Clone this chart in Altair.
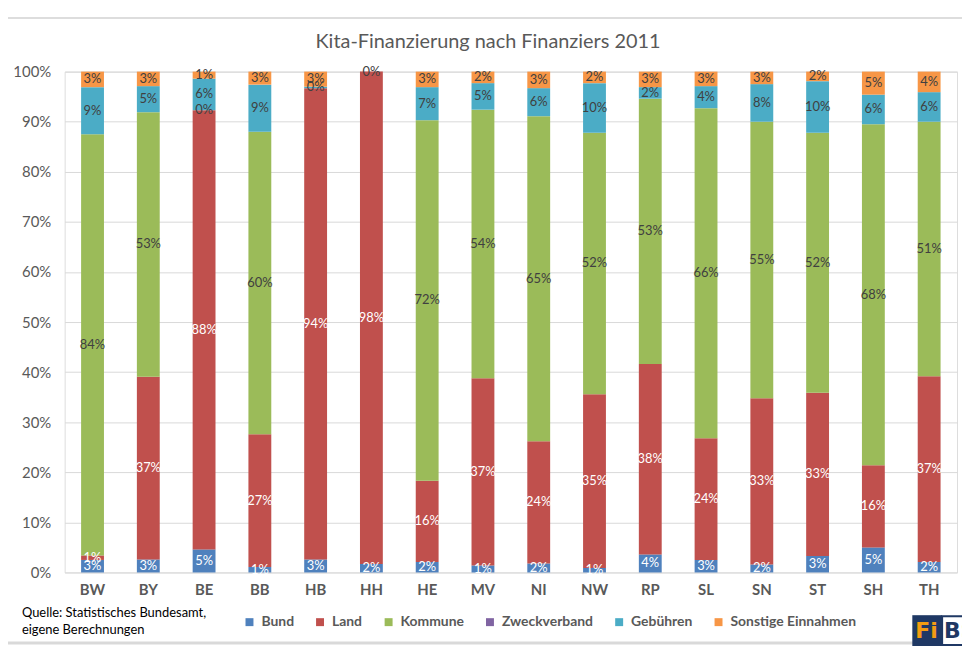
import altair as alt
import pandas as pd

states = ["BW", "BY", "BE", "BB", "HB", "HH", "HE", "MV", "NI", "NW", "RP", "SL", "SN", "ST", "SH", "TH"]
series = ["Bund", "Land", "Kommune", "Zweckverband", "Gebühren", "Sonstige Einnahmen"]
colors = ["#4f81bd", "#c0504d", "#9bbb59", "#8064a2", "#4bacc6", "#f79646"]
title_text = "Kita-Finanzierung nach Finanziers 2011"
source_lines = ["Quelle: Statistisches Bundesamt,", "eigene Berechnungen"]

# shares in percent (None = no value)
bund = [2.5, 2.6, 4.6, 1.1, 2.6, 1.7, 2.1, 1.4, 1.8, 0.9, 3.6, 2.5, 1.6, 3.3, 5.0, 2.1]
land = [0.9, 36.5, 87.7, 26.5, 94.1, 98.3, 16.2, 37.4, 24.4, 34.7, 38.0, 24.3, 33.2, 32.6, 16.4, 37.1]
kommune = [84.1, 52.8, 0, 60.4, None, 0, 72.0, 53.6, 64.9, 52.2, 53.0, 65.9, 55.2, 51.9, 68.1, 50.8]
zweckverband = [None] * 16
gebuehren = [9.4, 5.2, 6.3, 9.4, 0.3, None, 6.6, 5.3, 5.6, 9.9, 2.3, 4.4, 7.5, 10.3, 5.9, 5.9]
sonstige = [3.1, 2.9, 1.4, 2.6, 3.0, None, 3.1, 2.3, 3.3, 2.3, 3.1, 2.9, 2.5, 1.9, 4.6, 4.1]

values = [bund, land, kommune, zweckverband, gebuehren, sonstige]

rows = []
for i, st in enumerate(states):
    cum = 0.0
    for k, s in enumerate(series):
        v = values[k][i]
        if v is None:
            continue
        rows.append({
            "state": st, "series": s, "order": k, "value": v,
            "y0": cum / 100.0, "y1": (cum + v) / 100.0,
            "mid": (cum + v / 2.0) / 100.0,
            "label": f"{int(v + 0.5)}%",
        })
        cum += v
df = pd.DataFrame(rows)

FONT = "Lato"
GRAY = "#595959"

x_enc = alt.X("state:N", sort=states, title=None,
              scale=alt.Scale(domain=states, paddingInner=0.59, paddingOuter=0.295),
              axis=alt.Axis(labelAngle=0, labelFontSize=15, labelFontWeight="bold",
                            labelColor=GRAY, labelFont=FONT, ticks=False, domain=False,
                            labelPadding=10))

bars = alt.Chart(df).mark_bar(size=23).encode(
    x=x_enc,
    y=alt.Y("y0:Q", scale=alt.Scale(domain=[0, 1]), title=None,
            axis=alt.Axis(format=".0%", values=[i / 10 for i in range(11)],
                          labelFontSize=15, labelColor=GRAY, labelFont=FONT,
                          ticks=False, domain=False, grid=True, gridColor="#d9d9d9",
                          labelPadding=14)),
    y2="y1:Q",
    color=alt.Color("series:N", scale=alt.Scale(domain=series, range=colors),
                    legend=alt.Legend(orient="none", direction="horizontal",
                                      legendX=179, legendY=547, title=None,
                                      symbolType="square", symbolSize=64,
                                      symbolStrokeWidth=0, labelFontSize=14,
                                      labelFontWeight="bold", labelColor=GRAY,
                                      labelFont=FONT, columnPadding=19,
                                      labelOffset=5)),
    order=alt.Order("order:Q"),
)

labels = alt.Chart(df).mark_text(fontSize=13, font=FONT, baseline="middle").encode(
    x=alt.X("state:N", sort=states),
    y=alt.Y("mid:Q"),
    text="label:N",
    color=alt.condition("datum.series == 'Bund' || datum.series == 'Land'",
                        alt.value("white"), alt.value("#404040")),
)

title = alt.Chart(pd.DataFrame({"t": [title_text]})).mark_text(
    fontSize=20, font=FONT, color=GRAY, align="center", baseline="middle").encode(
    x=alt.value(426), y=alt.value(-30), text="t:N")

src_df = pd.DataFrame({"t": [source_lines]})
source = alt.Chart(src_df).mark_text(align="left", baseline="alphabetic", fontSize=13,
                                     font=FONT, color="black", lineHeight=17).encode(
    x=alt.value(-43), y=alt.value(549), text="t:N")

one = pd.DataFrame({"a": [0]})
bottom_line = alt.Chart(one).mark_rule(color="#d9d9d9", strokeWidth=3).encode(
    x=alt.value(-57), x2=alt.value(903), y=alt.value(575))
top_line = alt.Chart(one).mark_rule(color="#dddddd", strokeWidth=2).encode(
    x=alt.value(-57), x2=alt.value(903), y=alt.value(-54))
logo_box = alt.Chart(one).mark_rect(color="#1f3864").encode(
    x=alt.value(853), x2=alt.value(883), y=alt.value(547), y2=alt.value(578))
logo_box2 = alt.Chart(one).mark_rect(fill="white", stroke="#1f3864", strokeWidth=2).encode(
    x=alt.value(883), x2=alt.value(905), y=alt.value(548), y2=alt.value(577))
logo_fi = alt.Chart(pd.DataFrame({"t": ["Fi"]})).mark_text(
    fontSize=22, fontWeight="bold", color="#f39c12", font="DejaVu Sans", align="left",
    baseline="middle").encode(x=alt.value(856), y=alt.value(563), text="t:N")
logo_bs = alt.Chart(pd.DataFrame({"t": ["BS"]})).mark_text(
    fontSize=22, fontWeight="bold", color="#1f3864", font="DejaVu Sans", align="left",
    baseline="middle").encode(x=alt.value(885), y=alt.value(563), text="t:N")

chart = alt.layer(bars, labels, title, source, bottom_line, top_line, logo_box, logo_box2,
                  logo_fi, logo_bs).properties(
    width=898, height=504,
    autosize=alt.AutoSizeParams(type="none"),
    padding={"left": 57, "top": 62, "right": 5, "bottom": 74},
).configure_view(stroke=None).configure(background="white")

chart.save("out.html", embed_options={"renderer": "svg", "actions": False})
